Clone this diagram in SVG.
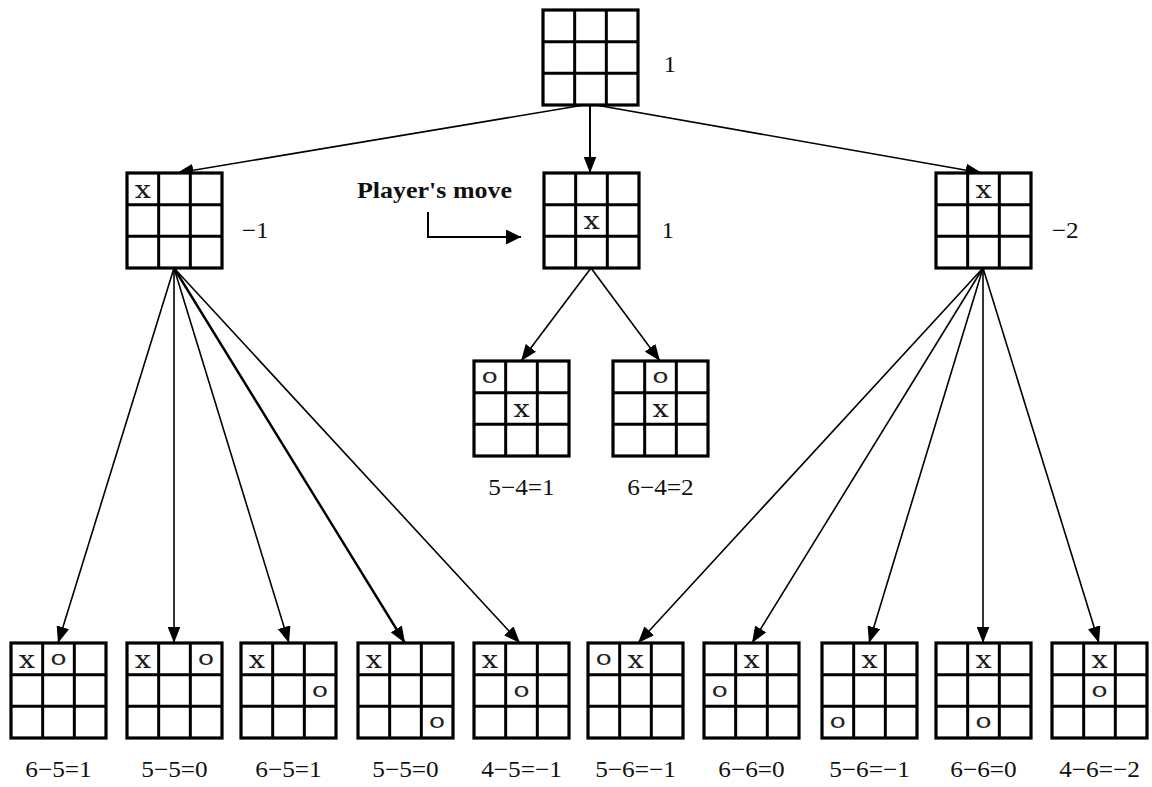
<svg xmlns="http://www.w3.org/2000/svg" xmlns:xlink="http://www.w3.org/1999/xlink" width="1152" height="787" viewBox="0 0 1152 787">
  <style>
    .cell { fill: #fff; stroke: #000; stroke-width: 3.2; }
    .grid { fill: none; stroke: #000; stroke-width: 3; }
    .mx { font-family: "DejaVu Serif", "Liberation Serif", serif; font-size: 25px; text-anchor: middle; fill: #1a1a1a;
          transform-box: fill-box; transform-origin: center; transform: scaleX(1.15); }
    .mo { font-family: "Liberation Mono", "DejaVu Sans Mono", monospace; font-size: 21px; text-anchor: middle; fill: #222;
          transform-box: fill-box; transform-origin: center; transform: scaleX(1.35); }
    .lbl { font-family: "Liberation Serif", "Times New Roman", serif; font-size: 23px; fill: #111;
           transform-box: fill-box; transform-origin: center; transform: scaleX(1.1); }
    .score { text-anchor: middle; }
    .edge { fill: none; stroke: #000; stroke-width: 1.6; }
    .note { font-family: "Liberation Serif", "Times New Roman", serif; font-size: 24px; font-weight: bold; fill: #111; }
  </style>
  <defs>
    <marker id="arrow" markerUnits="userSpaceOnUse" markerWidth="17" markerHeight="13" refX="16.5" refY="6.5" orient="auto">
      <path d="M0,0 L16.5,6.5 L0,13 z" fill="#000"/>
    </marker>
    <marker id="arrow-big" markerUnits="userSpaceOnUse" markerWidth="16" markerHeight="16" refX="15" refY="7.5" orient="auto">
      <path d="M0,0 L15,7.5 L0,15 z" fill="#000"/>
    </marker>
    <!-- empty 3x3 board, 95px square -->
    <g id="grid">
      <rect class="cell" x="0" y="0" width="95" height="95"/>
      <path class="grid" d="M31.67,0V95M63.33,0V95M0,31.67H95M0,63.33H95"/>
    </g>
  </defs>

  <rect width="1152" height="787" fill="#fff"/>

  <!-- game-tree edges -->
  <g id="connectors">
    <line class="edge" x1="590" y1="104" x2="177" y2="173" marker-end="url(#arrow)"/>
    <line class="edge" x1="590" y1="104" x2="590" y2="173" marker-end="url(#arrow)" style="stroke-width:2"/>
    <line class="edge" x1="590" y1="104" x2="982" y2="173" marker-end="url(#arrow)"/>

    <line class="edge" x1="174" y1="268" x2="58" y2="643" marker-end="url(#arrow)"/>
    <line class="edge" x1="174" y1="268" x2="174" y2="643" marker-end="url(#arrow)"/>
    <line class="edge" x1="174" y1="268" x2="289" y2="643" marker-end="url(#arrow)"/>
    <line class="edge" x1="174" y1="268" x2="405" y2="643" marker-end="url(#arrow)" style="stroke-width:2.4"/>
    <line class="edge" x1="174" y1="268" x2="520" y2="643" marker-end="url(#arrow)"/>

    <line class="edge" x1="591" y1="268" x2="521" y2="361" marker-end="url(#arrow)"/>
    <line class="edge" x1="591" y1="268" x2="660" y2="361" marker-end="url(#arrow)"/>

    <line class="edge" x1="983" y1="268" x2="638" y2="643" marker-end="url(#arrow)"/>
    <line class="edge" x1="983" y1="268" x2="752" y2="643" marker-end="url(#arrow)"/>
    <line class="edge" x1="983" y1="268" x2="869" y2="643" marker-end="url(#arrow)"/>
    <line class="edge" x1="983" y1="268" x2="983" y2="643" marker-end="url(#arrow)"/>
    <line class="edge" x1="983" y1="268" x2="1099" y2="643" marker-end="url(#arrow)"/>

    <path class="edge" d="M428,212 V237 H521" marker-end="url(#arrow-big)" style="stroke-width:2"/>
  </g>

  <text class="note" x="357" y="198" textLength="155" lengthAdjust="spacingAndGlyphs">Player's move</text>

  <!-- root -->
  <g id="root" transform="translate(543,10)">
    <use xlink:href="#grid"/>
    <text class="lbl" x="121" y="62">1</text>
  </g>

  <!-- first move -->
  <g id="move-corner" transform="translate(127,173)">
    <use xlink:href="#grid"/>
    <text class="mx" x="15.8" y="25">x</text>
    <text class="lbl" x="116" y="65">−1</text>
  </g>
  <g id="move-center" transform="translate(544,173)">
    <use xlink:href="#grid"/>
    <text class="mx" x="47.5" y="56">x</text>
    <text class="lbl" x="118" y="65">1</text>
  </g>
  <g id="move-edge" transform="translate(936,173)">
    <use xlink:href="#grid"/>
    <text class="mx" x="47.5" y="25">x</text>
    <text class="lbl" x="117" y="65">−2</text>
  </g>

  <!-- replies to centre -->
  <g id="center-a" transform="translate(474,361)">
    <use xlink:href="#grid"/>
    <text class="mo" x="15.8" y="22">o</text>
    <text class="mx" x="47.5" y="56">x</text>
    <text class="lbl score" x="47.5" y="134">5−4=1</text>
  </g>
  <g id="center-b" transform="translate(613,361)">
    <use xlink:href="#grid"/>
    <text class="mo" x="47.5" y="22">o</text>
    <text class="mx" x="47.5" y="56">x</text>
    <text class="lbl score" x="47.5" y="134">6−4=2</text>
  </g>

  <!-- replies to corner -->
  <g id="corner-1" transform="translate(11,643)">
    <use xlink:href="#grid"/>
    <text class="mx" x="15.8" y="25">x</text>
    <text class="mo" x="47.5" y="22">o</text>
    <text class="lbl score" x="47.5" y="134">6−5=1</text>
  </g>
  <g id="corner-2" transform="translate(127,643)">
    <use xlink:href="#grid"/>
    <text class="mx" x="15.8" y="25">x</text>
    <text class="mo" x="79.1" y="22">o</text>
    <text class="lbl score" x="47.5" y="134">5−5=0</text>
  </g>
  <g id="corner-3" transform="translate(241,643)">
    <use xlink:href="#grid"/>
    <text class="mx" x="15.8" y="25">x</text>
    <text class="mo" x="79.1" y="54">o</text>
    <text class="lbl score" x="47.5" y="134">6−5=1</text>
  </g>
  <g id="corner-4" transform="translate(358,643)">
    <use xlink:href="#grid"/>
    <text class="mx" x="15.8" y="25">x</text>
    <text class="mo" x="79.1" y="85">o</text>
    <text class="lbl score" x="47.5" y="134">5−5=0</text>
  </g>
  <g id="corner-5" transform="translate(474,643)">
    <use xlink:href="#grid"/>
    <text class="mx" x="15.8" y="25">x</text>
    <text class="mo" x="47.5" y="54">o</text>
    <text class="lbl score" x="47.5" y="134">4−5=−1</text>
  </g>

  <!-- replies to edge -->
  <g id="edge-1" transform="translate(588,643)">
    <use xlink:href="#grid"/>
    <text class="mo" x="15.8" y="22">o</text>
    <text class="mx" x="47.5" y="25">x</text>
    <text class="lbl score" x="47.5" y="134">5−6=−1</text>
  </g>
  <g id="edge-2" transform="translate(704,643)">
    <use xlink:href="#grid"/>
    <text class="mx" x="47.5" y="25">x</text>
    <text class="mo" x="15.8" y="54">o</text>
    <text class="lbl score" x="47.5" y="134">6−6=0</text>
  </g>
  <g id="edge-3" transform="translate(822,643)">
    <use xlink:href="#grid"/>
    <text class="mx" x="47.5" y="25">x</text>
    <text class="mo" x="15.8" y="85">o</text>
    <text class="lbl score" x="47.5" y="134">5−6=−1</text>
  </g>
  <g id="edge-4" transform="translate(936,643)">
    <use xlink:href="#grid"/>
    <text class="mx" x="47.5" y="25">x</text>
    <text class="mo" x="47.5" y="85">o</text>
    <text class="lbl score" x="47.5" y="134">6−6=0</text>
  </g>
  <g id="edge-5" transform="translate(1052,643)">
    <use xlink:href="#grid"/>
    <text class="mx" x="47.5" y="25">x</text>
    <text class="mo" x="47.5" y="54">o</text>
    <text class="lbl score" x="47.5" y="134">4−6=−2</text>
  </g>
</svg>
